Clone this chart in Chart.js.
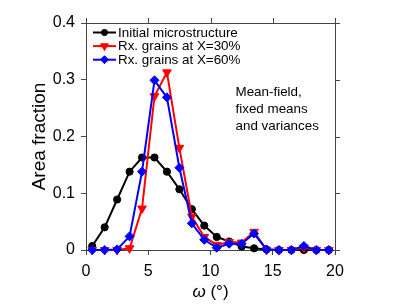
<!DOCTYPE html>
<html>
<head>
<meta charset="utf-8">
<script src="https://cdn.jsdelivr.net/npm/chart.js@4/dist/chart.umd.min.js"></script>
<style>
  html, body { margin: 0; padding: 0; background: #fff; }
  #wrap { width: 407px; height: 305px; }
</style>
</head>
<body>
<div id="wrap"><canvas id="chart" width="407" height="305"></canvas></div>
<script>
const omega = [0.5, 1.5, 2.5, 3.5, 4.5, 5.5, 6.5, 7.5, 8.5, 9.5, 10.5, 11.5, 12.5, 13.5, 14.5, 15.5, 16.5, 17.5, 18.5, 19.5];
const initial = [0.007, 0.040, 0.089, 0.138, 0.163, 0.163, 0.138, 0.107, 0.072, 0.043, 0.023, 0.015, 0.006, 0.003, 0.001, 0, 0, 0, 0, 0];
const rx30 = [0, 0, 0, 0.003, 0.073, 0.271, 0.313, 0.180, 0.059, 0.023, 0.009, 0.014, 0.013, 0.032, 0, 0, 0, 0.004, 0, 0];
const rx60 = [0, 0, 0.001, 0.024, 0.138, 0.299, 0.269, 0.145, 0.047, 0.018, 0.004, 0.011, 0.011, 0.029, 0.001, 0, 0, 0.007, 0, 0];
const seriesNames = ['Initial microstructure', 'Rx. grains at X=30%', 'Rx. grains at X=60%'];
const xTicks = [0, 5, 10, 15, 20];
const yTicks = [0, 0.1, 0.2, 0.3, 0.4];
const noteLines = ['Mean-field,', 'fixed means', 'and variances'];

const FONT = 'Liberation Sans, Arial, Helvetica, sans-serif';
const axisColor = '#444';

const toPoints = (vals) => omega.map((x, i) => ({ x: x, y: vals[i] }));

const styles = [
    { color: '#000', pointStyle: 'circle', radius: 3.6, rotation: 0, order: 3 },
    { color: '#ff0000', pointStyle: 'triangle', radius: 5, rotation: 180, order: 2 },
    { color: '#0000ff', pointStyle: 'rectRot', radius: 4.5, rotation: 0, order: 1 }
];

const datasets = [initial, rx30, rx60].map((vals, i) => ({
    label: seriesNames[i],
    data: toPoints(vals),
    borderColor: styles[i].color,
    backgroundColor: styles[i].color,
    borderWidth: 2,
    pointStyle: styles[i].pointStyle,
    pointRadius: styles[i].radius,
    pointRotation: styles[i].rotation,
    pointBorderWidth: 1,
    order: styles[i].order,
    clip: false,
    tension: 0
}));

// frame, mirror ticks, legend, note and axis titles
const extras = {
    id: 'extras',
    afterDraw(chart) {
        const ctx = chart.ctx;
        const a = chart.chartArea;
        const xs = chart.scales.x;
        const ys = chart.scales.y;
        ctx.save();
        ctx.strokeStyle = axisColor;
        ctx.lineWidth = 1;
        ctx.beginPath();
        ctx.moveTo(a.left, a.top + 0.5);
        ctx.lineTo(a.right + 0.5, a.top + 0.5);
        ctx.lineTo(a.right + 0.5, a.bottom);
        for (const t of xTicks) {
            const px = Math.round(xs.getPixelForValue(t)) + 0.5;
            ctx.moveTo(px, a.top);
            ctx.lineTo(px, a.top - 5);
        }
        for (const t of yTicks) {
            const py = Math.round(ys.getPixelForValue(t)) + 0.5;
            ctx.moveTo(a.right, py);
            ctx.lineTo(a.right + 5, py);
        }
        ctx.stroke();

        // legend
        ctx.font = '13.4px ' + FONT;
        ctx.textBaseline = 'middle';
        ctx.fillStyle = '#000';
        seriesNames.forEach((name, i) => {
            const y = 32.5 + i * 13.6;
            const s = styles[i];
            ctx.strokeStyle = s.color;
            ctx.lineWidth = 2;
            ctx.beginPath();
            ctx.moveTo(93, y);
            ctx.lineTo(116, y);
            ctx.stroke();
            ctx.fillStyle = s.color;
            ctx.lineWidth = 1;
            Chart.helpers.drawPoint(ctx, { pointStyle: s.pointStyle, radius: s.radius - 0.5, rotation: s.rotation, borderWidth: 1 }, 104.5, y);
            ctx.fillStyle = '#000';
            ctx.fillText(name, 118, y + 0.5);
        });

        // note
        noteLines.forEach((line, i) => {
            ctx.fillText(line, 235.5, 92 + i * 17.4);
        });

        // y title
        ctx.save();
        ctx.translate(40, (a.top + a.bottom) / 2);
        ctx.rotate(-Math.PI / 2);
        ctx.font = '19px ' + FONT;
        ctx.textAlign = 'center';
        ctx.fillText('Area fraction', 0, 0);
        ctx.restore();

        // x title with italic omega
        ctx.font = 'italic 17px ' + FONT;
        const w1 = ctx.measureText('\u03c9').width;
        ctx.font = '17px ' + FONT;
        const rest = ' (\u00b0)';
        const w2 = ctx.measureText(rest).width;
        const x0 = (a.left + a.right) / 2 - (w1 + w2) / 2;
        ctx.textAlign = 'left';
        ctx.font = 'italic 17px ' + FONT;
        ctx.fillText('\u03c9', x0, 292);
        ctx.font = '17px ' + FONT;
        ctx.fillText(rest, x0 + w1, 292);
        ctx.restore();
    }
};

new Chart(document.getElementById('chart').getContext('2d'), {
    type: 'line',
    data: { datasets: datasets },
    plugins: [extras],
    options: {
        responsive: false,
        animation: false,
        layout: { padding: { top: 23, right: 72, left: 0, bottom: 0 } },
        plugins: { legend: { display: false }, tooltip: { enabled: false } },
        scales: {
            x: {
                type: 'linear',
                min: 0,
                max: 20,
                afterFit: (scale) => { scale.height = 55; },
                afterBuildTicks: (scale) => { scale.ticks = xTicks.map(v => ({ value: v })); },
                border: { display: true, color: axisColor, width: 1 },
                grid: { drawOnChartArea: false, drawTicks: true, tickLength: 5, color: axisColor },
                ticks: { color: '#000', padding: 7, maxRotation: 0, font: { family: FONT, size: 16 } }
            },
            y: {
                min: 0,
                max: 0.4,
                afterFit: (scale) => { scale.width = 86; },
                afterBuildTicks: (scale) => { scale.ticks = yTicks.map(v => ({ value: v })); },
                border: { display: true, color: axisColor, width: 1 },
                grid: { drawOnChartArea: false, drawTicks: true, tickLength: 5, color: axisColor },
                ticks: {
                    color: '#000',
                    padding: 6,
                    font: { family: FONT, size: 16 },
                    callback: (v) => (v === 0 ? '0' : v.toFixed(1))
                }
            }
        }
    }
});
</script>
</body>
</html>
